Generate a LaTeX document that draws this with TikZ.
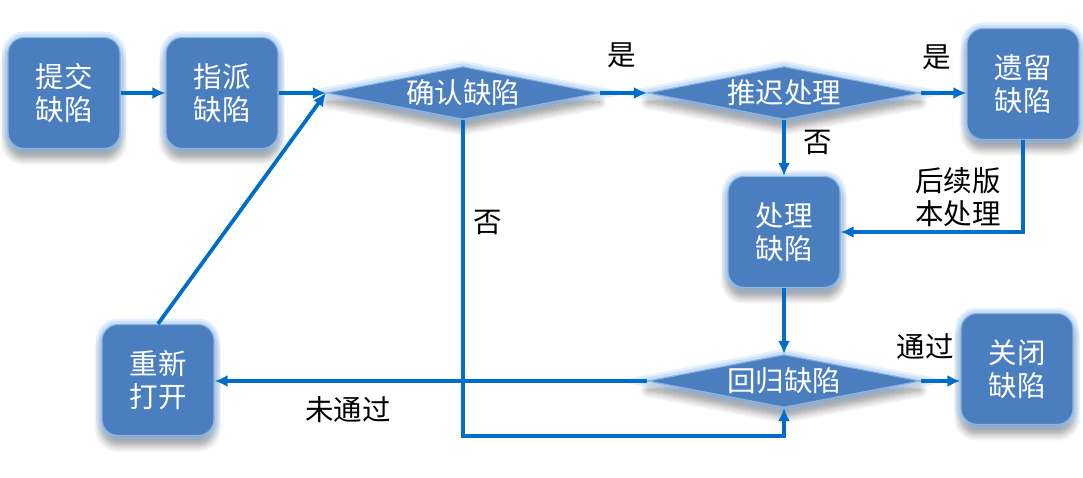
\documentclass[tikz,border=0pt]{standalone}
\usepackage{fontspec}
\setmainfont{Noto Sans CJK SC}
\usetikzlibrary{shapes.geometric,arrows.meta,shadows.blur}
\definecolor{boxblue}{RGB}{74,126,190}
\definecolor{glowblue}{RGB}{150,195,245}
\definecolor{edgeblue}{RGB}{140,180,225}
\definecolor{arrowblue}{RGB}{0,110,200}
\begin{document}
\begin{tikzpicture}[x=1pt,y=-1pt,
  base/.style={fill=boxblue, text=white, font=\fontsize{28.5}{32.5}\selectfont, align=center, inner sep=0pt,
     blur shadow={shadow xshift=0pt, shadow yshift=-9pt, shadow blur steps=12, shadow opacity=45, shadow blur radius=8pt},
     preaction={draw=glowblue, line width=12pt, draw opacity=0.25},
     preaction={draw=glowblue, line width=7pt, draw opacity=0.35},
     draw=edgeblue, line width=1.2pt},
  box/.style={base, rounded corners=16pt, minimum width=112pt, minimum height=111pt},
  dia/.style={base, diamond, aspect=5.1, minimum width=273pt, minimum height=53pt},
  arr/.style={draw=arrowblue, line width=3.8pt, -{Latex[length=13pt,width=12pt]}},
  lbl/.style={font=\fontsize{28.5}{32.5}\selectfont, text=black, align=center, inner sep=0pt}
]
\useasboundingbox (0,0) rectangle (1083,478);

\node[box] (submit) at (64,93) {提交\\缺陷};
\node[box] (assign) at (222,93) {指派\\缺陷};
\node[dia] (confirm) at (463,93) {确认缺陷};
\node[dia] (defer) at (784,93) {推迟处理};
\node[box] (legacy) at (1023,84) {遗留\\缺陷};
\node[box] (handle) at (784,232) {处理\\缺陷};
\node[dia] (regress) at (784,381) {回归缺陷};
\node[box] (close) at (1017,369) {关闭\\缺陷};
\node[box] (reopen) at (158,380) {重新\\打开};
\coordinate (bot) at (0,436);

\draw[arr] (submit) -- (assign);
\draw[arr] (assign.east) -- (confirm.west);
\draw[arr] (reopen.north) -- (confirm.west);
\draw[arr] (confirm.east) -- (defer.west);
\draw[arr] (defer.east) -- (defer.east -| legacy.west);
\draw[arr] (defer.south) -- (handle.north);
\draw[arr] (legacy.south) |- (handle.east);
\draw[arr] (handle.south) -- (regress.north);
\draw[arr] (regress.east) -- (regress.east -| close.west);
\draw[arr] (regress.west) -- (regress.west -| reopen.east);
\draw[arr] (confirm.south) -- (confirm.south |- bot) -| (regress.south);

\node[lbl] (l1) at (622,55) {是};
\node[lbl] (l2) at (937,57) {是};
\node[lbl] (l3) at (818,142) {否};
\node[lbl] (l4) at (488,222) {否};
\node[lbl] (l5) at (958,197) {后续版\\本处理};
\node[lbl] (l6) at (925,347) {通过};
\node[lbl] (l7) at (348,410) {未通过};
\end{tikzpicture}
\end{document}
